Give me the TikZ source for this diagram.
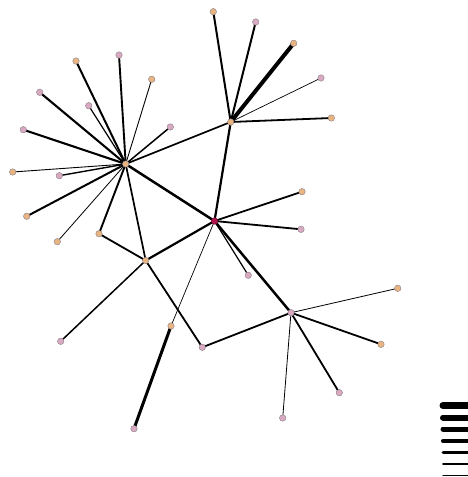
\documentclass[tikz,border=0pt]{standalone}
\usepackage{xcolor}
\usepackage{tikz}
\usetikzlibrary{positioning, backgrounds}
\definecolor{peach}{HTML}{E8B482}
\definecolor{mauve}{HTML}{D9A9C2}
\definecolor{crimson}{HTML}{B0144E}
\definecolor{rimgray}{HTML}{8A8088}
\tikzset{
  vtx/.style={circle, inner sep=0pt, minimum size=6.5pt, draw=rimgray, line width=0.4pt},
  orangevtx/.style={vtx, fill=peach},
  pinkvtx/.style={vtx, fill=mauve},
  hubvtx/.style={vtx, fill=crimson, draw=crimson!70!black},
  tie/.style={draw=black, line cap=round}
}

\begin{document}
\begin{tikzpicture}[x=1pt, y=-1pt]
    \useasboundingbox (0,0) rectangle (468,477);
    % hubs
    \node[orangevtx] (ha) at (125.7,164) {};
    \node[orangevtx] (hb) at (230.7,122) {};
    \node[hubvtx]    (hc) at (214.5,221) {};
    \node[orangevtx] (hd) at (145.7,260.5) {};
    \node[pinkvtx]   (he) at (291,312.7) {};
    % leaves of ha
    \node[orangevtx] (a1) at (76,61) {};
    \node[pinkvtx]   (a2) at (119,55) {};
    \node[orangevtx] (a3) at (151.7,79.3) {};
    \node[pinkvtx]   (a4) at (39.7,92.3) {};
    \node[pinkvtx]   (a5) at (88.7,105.7) {};
    \node[pinkvtx]   (a6) at (170.3,127) {};
    \node[pinkvtx]   (a7) at (23.3,129.7) {};
    \node[orangevtx] (a8) at (12.7,172) {};
    \node[pinkvtx]   (a9) at (59.3,175.7) {};
    \node[orangevtx] (a10) at (26.7,216.3) {};
    \node[orangevtx] (a11) at (57.3,241.7) {};
    \node[orangevtx] (a12) at (99,233.7) {};
    % leaves of hb
    \node[orangevtx] (b1) at (213.3,11.7) {};
    \node[pinkvtx]   (b2) at (255.7,22) {};
    \node[orangevtx] (b3) at (293.7,43.3) {};
    \node[pinkvtx]   (b4) at (321,78) {};
    \node[orangevtx] (b5) at (331.3,118) {};
    % leaves of hc
    \node[orangevtx] (c1) at (302,191.7) {};
    \node[pinkvtx]   (c2) at (301,229.3) {};
    \node[pinkvtx]   (c3) at (248.3,275.3) {};
    \node[orangevtx] (c4) at (171,326) {};
    % leaves of hd
    \node[pinkvtx]   (d1) at (60.7,341.3) {};
    \node[pinkvtx]   (d2) at (202.3,347.3) {};
    \node[pinkvtx]   (d3) at (134,428.7) {};
    % leaves of he
    \node[orangevtx] (e1) at (397.7,288.3) {};
    \node[orangevtx] (e2) at (381,344.3) {};
    \node[pinkvtx]   (e3) at (339.3,392.7) {};
    \node[pinkvtx]   (e4) at (282.7,418) {};

    % edges sit behind the vertices
    \begin{scope}[on background layer, tie]
      \draw[line width=2pt]   (ha.center) -- (a1.center);
      \draw[line width=1.9pt] (ha.center) -- (a2.center);
      \draw[line width=0.9pt] (ha.center) -- (a3.center);
      \draw[line width=2.1pt] (ha.center) -- (a4.center);
      \draw[line width=1.2pt] (ha.center) -- (a5.center);
      \draw[line width=1.5pt] (ha.center) -- (a6.center);
      \draw[line width=2.1pt] (ha.center) -- (a7.center);
      \draw[line width=0.9pt] (ha.center) -- (a8.center);
      \draw[line width=1.4pt] (ha.center) -- (a9.center);
      \draw[line width=2pt]   (ha.center) -- (a10.center);
      \draw[line width=0.8pt] (ha.center) -- (a11.center);
      \draw[line width=1.9pt] (ha.center) -- (a12.center);
      \draw[line width=1.7pt] (ha.center) -- (hb.center);
      \draw[line width=2.5pt] (ha.center) -- (hc.center);
      \draw[line width=1.7pt] (ha.center) -- (hd.center);
      \draw[line width=1.8pt] (a12.center) -- (hd.center);

      \draw[line width=2pt]   (hb.center) -- (b1.center);
      \draw[line width=2pt]   (hb.center) -- (b2.center);
      \draw[line width=4pt]   (hb.center) -- (b3.center);
      \draw[line width=0.7pt] (hb.center) -- (b4.center);
      \draw[line width=1.8pt] (hb.center) -- (b5.center);
      \draw[line width=2.2pt] (hb.center) -- (hc.center);

      \draw[line width=1.8pt] (hc.center) -- (c1.center);
      \draw[line width=1.8pt] (hc.center) -- (c2.center);
      \draw[line width=1.2pt] (hc.center) -- (c3.center);
      \draw[line width=0.7pt] (hc.center) -- (c4.center);
      \draw[line width=2.5pt] (hc.center) -- (he.center);
      \draw[line width=2.2pt] (hc.center) -- (hd.center);

      \draw[line width=1.5pt] (hd.center) -- (d1.center);
      \draw[line width=1.8pt] (hd.center) -- (d2.center);
      \draw[line width=3pt]   (c4.center) -- (d3.center);

      \draw[line width=1.8pt] (d2.center) -- (he.center);
      \draw[line width=0.8pt] (he.center) -- (e1.center);
      \draw[line width=1.8pt] (he.center) -- (e2.center);
      \draw[line width=1.8pt] (he.center) -- (e3.center);
      \draw[line width=0.8pt] (he.center) -- (e4.center);
    \end{scope}

    % width key
    \foreach \yy/\ww in {405.5/7, 417.5/6, 429/5, 441/4, 452/3, 464/2, 475.5/1.5}
      \draw[tie, line width=\ww pt] (443,\yy) -- (468,\yy);
  \end{tikzpicture}
\end{document}
